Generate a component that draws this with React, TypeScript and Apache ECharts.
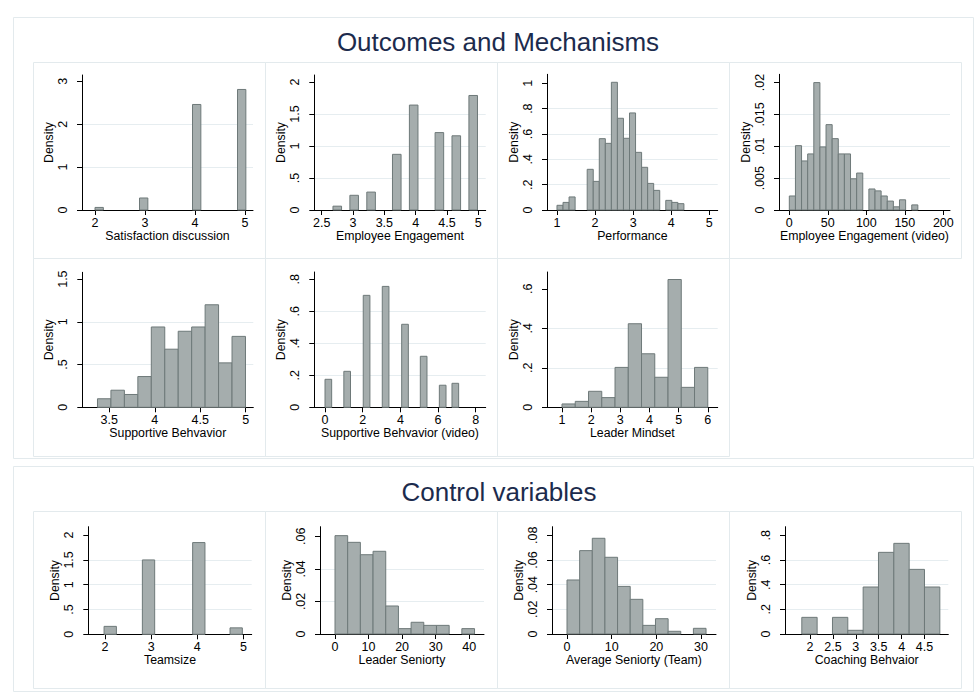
import React, { useEffect, useRef } from 'react';
import * as echarts from 'echarts';

// ---------- data ----------
// Outcomes and Mechanisms
const satisfactionLeft = [2.0, 2.89, 3.95, 4.85];
const satisfactionWidth = 0.167;
const satisfactionDensity = [0.06, 0.28, 2.46, 2.81];
const satisfactionXTicks = [2, 3, 4, 5];
const satisfactionYTicks = [0, 1, 2, 3];

const engagementLeft = [2.68, 2.95, 3.22, 3.63, 3.9, 4.31, 4.58, 4.85];
const engagementWidth = 0.137;
const engagementDensity = [0.06, 0.23, 0.28, 0.87, 1.64, 1.21, 1.16, 1.79];
const engagementXTicks = [2.5, 3, 3.5, 4, 4.5, 5];
const engagementYTicks = [0, 0.5, 1, 1.5, 2];

const performanceStart = 1.0;
const performanceWidth = 0.1587;
const performanceDensity = [0.037, 0.06, 0.103, 0, 0, 0.321, 0.226, 0.563, 0.526, 1.008, 0.724, 0.566, 0.766, 0.455, 0.337, 0.21, 0.155, 0, 0.076, 0.06, 0.05];
const performanceXTicks = [1, 2, 3, 4, 5];
const performanceYTicks = [0, 0.2, 0.4, 0.6, 0.8, 1];

const engagementVideoStart = 0;
const engagementVideoWidth = 7.95;
const engagementVideoDensity = [0.0022, 0.0101, 0.0077, 0.0088, 0.02, 0.0099, 0.0134, 0.0112, 0.0088, 0.0088, 0.0049, 0.0058, 0, 0.0033, 0.003, 0.0022, 0.0014, 0.0005, 0.0016, 0, 0.0008];
const engagementVideoXTicks = [0, 50, 100, 150, 200];
const engagementVideoYTicks = [0, 0.005, 0.01, 0.015, 0.02];

const supportiveStart = 3.37;
const supportiveWidth = 0.148;
const supportiveDensity = [0.1, 0.2, 0.15, 0.36, 0.94, 0.68, 0.89, 0.94, 1.2, 0.52, 0.83];
const supportiveXTicks = [3.5, 4, 4.5, 5];
const supportiveYTicks = [0, 0.5, 1, 1.5];

const supportiveVideoLeft = [0, 1.0, 2.03, 3.04, 4.07, 5.06, 6.07, 6.74];
const supportiveVideoWidth = 0.354;
const supportiveVideoDensity = [0.175, 0.225, 0.7, 0.756, 0.519, 0.319, 0.138, 0.15];
const supportiveVideoXTicks = [0, 2, 4, 6, 8];
const supportiveVideoYTicks = [0, 0.2, 0.4, 0.6, 0.8];

const mindsetStart = 1.0;
const mindsetWidth = 0.4545;
const mindsetDensity = [0.017, 0.03, 0.081, 0.049, 0.202, 0.423, 0.271, 0.152, 0.647, 0.101, 0.202];
const mindsetXTicks = [1, 2, 3, 4, 5, 6];
const mindsetYTicks = [0, 0.2, 0.4, 0.6];

// Control variables
const teamsizeLeft = [1.98, 2.81, 3.9, 4.71];
const teamsizeWidth = 0.267;
const teamsizeDensity = [0.16, 1.5, 1.85, 0.13];
const teamsizeXTicks = [2, 3, 4, 5];
const teamsizeYTicks = [0, 0.5, 1, 1.5, 2];

const leaderSenStart = 0;
const leaderSenWidth = 3.78;
const leaderSenDensity = [0.0604, 0.0563, 0.0487, 0.0508, 0.0172, 0.0033, 0.0072, 0.0053, 0.0053, 0, 0.0033];
const leaderSenXTicks = [0, 10, 20, 30, 40];
const leaderSenYTicks = [0, 0.02, 0.04, 0.06];

const teamSenStart = 0;
const teamSenWidth = 2.83;
const teamSenDensity = [0.0438, 0.0676, 0.0776, 0.0622, 0.0386, 0.0281, 0.007, 0.0124, 0.0022, 0, 0.0046];
const teamSenXTicks = [0, 10, 20, 30];
const teamSenYTicks = [0, 0.02, 0.04, 0.06, 0.08];

const coachingStart = 1.82;
const coachingWidth = 0.335;
const coachingDensity = [0.135, 0, 0.135, 0.03, 0.381, 0.662, 0.735, 0.524, 0.381];
const coachingXTicks = [2, 2.5, 3, 3.5, 4, 4.5];
const coachingYTicks = [0, 0.2, 0.4, 0.6, 0.8];

const sectionTitles = ['Outcomes and Mechanisms', 'Control variables'];

// ---------- helpers ----------
const FONT = '"Liberation Sans", Arial, Helvetica, sans-serif';
const BAR_FILL = '#a5adad';
const BAR_STROKE = '#6e7979';
const GRID_COLOR = '#e6edf0';
const BORDER = '#e3eaed';
const TITLE_COLOR = '#1c2b4d';

function fromLeft(left: number[], width: number, dens: number[]) {
  return left.map((l, i) => [l, l + width, dens[i]]).filter((d) => d[2] > 0);
}
function fromStart(start: number, width: number, dens: number[]) {
  return dens.map((d, i) => [start + i * width, start + (i + 1) * width, d]).filter((d) => d[2] > 0);
}
function fmt(v: number) {
  let s = String(+Number(v).toFixed(6));
  if (s.startsWith('0.')) s = s.slice(1);
  return s;
}

function buildOption() {
  const panels = [
    { title: 'Satisfaction discussion', data: fromLeft(satisfactionLeft, satisfactionWidth, satisfactionDensity), xt: satisfactionXTicks, yt: satisfactionYTicks, x: [1.74, 5.16], yMax: 3.147, g: [82, 75, 253, 210] },
    { title: 'Employee Engagement', data: fromLeft(engagementLeft, engagementWidth, engagementDensity), xt: engagementXTicks, yt: engagementYTicks, x: [2.382, 5.118], yMax: 2.11, g: [314.3, 75, 485.7, 210] },
    { title: 'Performance', data: fromStart(performanceStart, performanceWidth, performanceDensity), xt: performanceXTicks, yt: performanceYTicks, x: [0.738, 5.22], yMax: 1.071, g: [547, 74.3, 717.7, 210] },
    { title: 'Employee Engagement (video)', data: fromStart(engagementVideoStart, engagementVideoWidth, engagementVideoDensity), xt: engagementVideoXTicks, yt: engagementVideoYTicks, x: [-13.4, 208.7], yMax: 0.0213, g: [779, 74.3, 950, 210] },
    { title: 'Supportive Behvavior', data: fromStart(supportiveStart, supportiveWidth, supportiveDensity), xt: supportiveXTicks, yt: supportiveYTicks, x: [3.203, 5.084], yMax: 1.58, g: [82.3, 272.3, 253.3, 407.3] },
    { title: 'Supportive Behvavior (video)', data: fromLeft(supportiveVideoLeft, supportiveVideoWidth, supportiveVideoDensity), xt: supportiveVideoXTicks, yt: supportiveVideoYTicks, x: [-0.568, 8.53], yMax: 0.846, g: [314.3, 272, 485.7, 407.3] },
    { title: 'Leader Mindset', data: fromStart(mindsetStart, mindsetWidth, mindsetDensity), xt: mindsetXTicks, yt: mindsetYTicks, x: [0.485, 6.34], yMax: 0.685, g: [547, 272, 717.7, 407.3] },
    { title: 'Teamsize', data: fromLeft(teamsizeLeft, teamsizeWidth, teamsizeDensity), xt: teamsizeXTicks, yt: teamsizeYTicks, x: [1.638, 5.18], yMax: 2.17, g: [88.3, 526.7, 251.7, 634.3] },
    { title: 'Leader Seniorty', data: fromStart(leaderSenStart, leaderSenWidth, leaderSenDensity), xt: leaderSenXTicks, yt: leaderSenYTicks, x: [-4.47, 44.4], yMax: 0.0659, g: [320, 526.7, 484, 634] },
    { title: 'Average Seniorty (Team)', data: fromStart(teamSenStart, teamSenWidth, teamSenDensity), xt: teamSenXTicks, yt: teamSenYTicks, x: [-3.36, 33.36], yMax: 0.087, g: [552, 526.7, 716, 634] },
    { title: 'Coaching Behvaior', data: fromStart(coachingStart, coachingWidth, coachingDensity), xt: coachingXTicks, yt: coachingYTicks, x: [1.453, 5.02], yMax: 0.87, g: [785, 526.7, 948.3, 634] },
  ];

  const axisText = { color: '#000', fontFamily: FONT };

  const renderItem = (params: any, api: any) => {
    const x0 = api.value(0);
    const x1 = api.value(1);
    const h = api.value(2);
    const p0 = api.coord([x0, h]);
    const p1 = api.coord([x1, 0]);
    return {
      type: 'rect',
      shape: { x: p0[0], y: p0[1], width: p1[0] - p0[0], height: p1[1] - p0[1] },
      style: { fill: BAR_FILL, stroke: BAR_STROKE, lineWidth: 1 },
    };
  };

  // panel frames
  const cols = [33, 265, 497, 729, 961];
  const frames: any[] = [];
  const rows: [number, number, number][] = [
    [62, 258, 4],
    [258, 456, 3],
    [511, 688, 4],
  ];
  rows.forEach(([t, b, n]) => {
    for (let c = 0; c < n; c++) {
      frames.push({
        type: 'rect', silent: true, z: 0,
        shape: { x: cols[c] + 0.5, y: t + 0.5, width: cols[c + 1] - cols[c], height: b - t },
        style: { fill: 'none', stroke: BORDER, lineWidth: 1 },
      });
    }
  });

  const graphic: any[] = [
    { type: 'rect', silent: true, z: 0, shape: { x: 13.5, y: 17.5, width: 960, height: 441 }, style: { fill: 'none', stroke: BORDER, lineWidth: 1 } },
    { type: 'rect', silent: true, z: 0, shape: { x: 13.5, y: 466.5, width: 960, height: 225 }, style: { fill: 'none', stroke: BORDER, lineWidth: 1 } },
    ...frames,
    { type: 'text', silent: true, x: 498, y: 42, style: { text: sectionTitles[0], fontSize: 26, fontFamily: FONT, fill: TITLE_COLOR, align: 'center', verticalAlign: 'middle', textAlign: 'center', textVerticalAlign: 'middle' } },
    { type: 'text', silent: true, x: 499, y: 492, style: { text: sectionTitles[1], fontSize: 26, fontFamily: FONT, fill: TITLE_COLOR, align: 'center', verticalAlign: 'middle', textAlign: 'center', textVerticalAlign: 'middle' } },
  ];

  return {
    animation: false,
    backgroundColor: '#ffffff',
    textStyle: { fontFamily: FONT },
    graphic,
    grid: panels.map((p) => ({
      left: p.g[0], top: p.g[1], width: p.g[2] - p.g[0], height: p.g[3] - p.g[1],
      containLabel: false, outerBoundsMode: 'none',
    })),
    xAxis: panels.map((p, i) => ({
      type: 'value', gridIndex: i, min: p.x[0], max: p.x[1],
      name: p.title, nameLocation: 'middle', nameGap: 20, nameMoveOverlap: false,
      nameTextStyle: { ...axisText, fontSize: 12.3 },
      axisLine: { show: true, onZero: false, lineStyle: { color: '#000', width: 1 } },
      axisTick: { show: true, length: 5, customValues: p.xt, lineStyle: { color: '#000', width: 1 } },
      axisLabel: { ...axisText, customValues: p.xt, margin: 6, fontSize: 12.5, formatter: fmt, hideOverlap: false },
      splitLine: { show: false },
    })),
    yAxis: panels.map((p, i) => ({
      type: 'value', gridIndex: i, min: 0, max: p.yMax, interval: p.yt[1] - p.yt[0],
      name: 'Density', nameLocation: 'middle', nameGap: 27, nameMoveOverlap: false,
      nameTextStyle: { ...axisText, fontSize: 12.3 },
      axisLine: { show: true, onZero: false, lineStyle: { color: '#000', width: 1 } },
      axisTick: { show: true, length: 5, customValues: p.yt, lineStyle: { color: '#000', width: 1 } },
      axisLabel: { ...axisText, customValues: p.yt, rotate: 90, margin: 13, fontSize: 12.5, formatter: fmt, hideOverlap: false },
      splitLine: { show: true, showMinLine: false, showMaxLine: false, lineStyle: { color: GRID_COLOR, width: 1 } },
    })),
    series: panels.map((p, i) => ({
      type: 'custom', xAxisIndex: i, yAxisIndex: i, silent: true,
      data: p.data, encode: { x: [0, 1], y: 2 },
      renderItem,
    })),
  };
}

export default function App() {
  const ref = useRef<HTMLDivElement>(null);
  useEffect(() => {
    if (!ref.current) return;
    const chart = echarts.init(ref.current, null, { renderer: 'svg' });
    chart.setOption(buildOption() as any);
    return () => chart.dispose();
  }, []);
  return (
    <div
      ref={ref}
      style={{ position: 'absolute', left: 0, top: 0, width: 977, height: 699, background: '#fff' }}
    />
  );
}
